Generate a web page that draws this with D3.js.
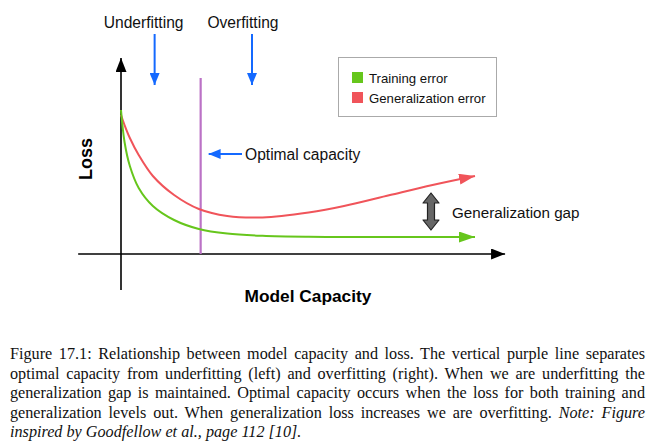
<!DOCTYPE html>
<html><head><meta charset="utf-8">
<script src="https://cdn.jsdelivr.net/npm/d3@7"></script>
<style>
body{margin:0;background:#fff;}
#wrap{position:relative;width:654px;height:448px;overflow:hidden;background:#fff;}
svg{position:absolute;left:0;top:0;}
#caption{position:absolute;left:10px;top:345px;width:635px;font-family:"Liberation Serif","Times New Roman",serif;font-size:16.2px;line-height:19.5px;color:#111;}
#caption div{white-space:nowrap;}
#caption span{display:inline-block;}
</style></head>
<body><div id="wrap"></div>
<script>
// ---- data ----
const capacity = [0, 0.1, 0.25, 0.5, 0.9, 1.5, 2.2, 3, 4, 5.3, 6.3, 7.6, 8.8, 10];
const trainingLoss = [7.2, 5.6, 4.4, 3.3, 2.4, 1.7, 1.25, 1.02, 0.91, 0.86, 0.85, 0.85, 0.85, 0.85];
const generalizationLoss = [6.95, 6.45, 5.8, 4.95, 3.9, 2.95, 2.25, 1.9, 1.83, 2.08, 2.4, 2.95, 3.45, 3.9];
const optimalCapacity = 2.25;
const seriesNames = ["Training error", "Generalization error"];
const regionLabels = ["Underfitting", "Overfitting"];
const regionCapacity = [0.95, 3.7];
const captionLines = [
  "Figure 17.1: Relationship between model capacity and loss. The vertical purple line separates",
  "optimal capacity from underfitting (left) and overfitting (right). When we are underfitting the",
  "generalization gap is maintained. Optimal capacity occurs when the loss for both training and",
  "generalization levels out. When generalization loss increases we are overfitting. <i>Note: Figure</i>",
  "<i>inspired by Goodfellow et al., page 112 [10].</i>"
];

const W = 654, H = 448;
const green = "#66c61c", red = "#f0545a", purple = "#bb72c6", blue = "#1469ff";
const x = d3.scaleLinear().domain([0, 10]).range([121, 475]);
const y = d3.scaleLinear().domain([0, 10]).range([254, 54]);

const wrap = d3.select("#wrap");
const svg = wrap.append("svg").attr("width", W).attr("height", H);
const defs = svg.append("defs");
function marker(id, color, len, wid) {
  defs.append("marker").attr("id", id).attr("viewBox", `0 0 ${len} ${wid}`)
    .attr("refX", len).attr("refY", wid / 2).attr("markerWidth", len).attr("markerHeight", wid)
    .attr("markerUnits", "userSpaceOnUse").attr("orient", "auto")
    .append("path").attr("d", `M0,0L${len},${wid / 2}L0,${wid}Z`).attr("fill", color);
}
marker("mBlack", "#000", 14, 11);
marker("mGreen", green, 16, 11);
marker("mRed", red, 16, 11);
marker("mBlue", blue, 12, 10);

const font = "'Liberation Sans', Arial, Helvetica, sans-serif";

// axes
svg.append("line").attr("x1", x(-1.21)).attr("x2", x(10.85)).attr("y1", y(0)).attr("y2", y(0))
  .attr("stroke", "#000").attr("stroke-width", 1.6).attr("marker-end", "url(#mBlack)");
svg.append("line").attr("x1", x(0)).attr("x2", x(0)).attr("y1", y(-1.8)).attr("y2", y(9.8))
  .attr("stroke", "#000").attr("stroke-width", 1.6).attr("marker-end", "url(#mBlack)");

// optimal capacity line
svg.append("line").attr("x1", x(optimalCapacity)).attr("x2", x(optimalCapacity))
  .attr("y1", y(8.8)).attr("y2", y(0)).attr("stroke", purple).attr("stroke-width", 2.2);

// curves
const line = d3.line().x((d, i) => x(capacity[i])).y(d => y(d)).curve(d3.curveCatmullRom.alpha(0.5));
svg.append("path").attr("d", line(generalizationLoss)).attr("fill", "none")
  .attr("stroke", red).attr("stroke-width", 2).attr("marker-end", "url(#mRed)");
svg.append("path").attr("d", line(trainingLoss)).attr("fill", "none")
  .attr("stroke", green).attr("stroke-width", 2).attr("marker-end", "url(#mGreen)");

// axis titles
svg.append("text").attr("x", 308).attr("y", 302).attr("text-anchor", "middle")
  .attr("font-family", font).attr("font-weight", "bold").attr("font-size", 17.3).text("Model Capacity");
svg.append("text").attr("transform", "translate(92,159) rotate(-90)").attr("text-anchor", "middle")
  .attr("font-family", font).attr("font-weight", "bold").attr("font-size", 18).text("Loss");

// region labels & arrows
regionLabels.forEach((t, i) => {
  const cx = x(regionCapacity[i]);
  svg.append("text").attr("x", cx - 11 + (i ? 2 : 0)).attr("y", 28).attr("text-anchor", "middle")
    .attr("font-family", font).attr("font-size", 15.6).attr("fill", "#111").text(t);
  svg.append("line").attr("x1", cx).attr("x2", cx).attr("y1", 34).attr("y2", 85)
    .attr("stroke", blue).attr("stroke-width", 2).attr("marker-end", "url(#mBlue)");
});

// optimal capacity annotation
svg.append("line").attr("x1", 242).attr("x2", x(optimalCapacity) + 8).attr("y1", 154).attr("y2", 154)
  .attr("stroke", blue).attr("stroke-width", 2).attr("marker-end", "url(#mBlue)");
svg.append("text").attr("x", 245).attr("y", 159.5).attr("font-family", font).attr("font-size", 15.6)
  .attr("fill", "#111").text("Optimal capacity");

// generalization gap double arrow
const gx = 431, gy1 = 193, gy2 = 230, sw = 3.5, hw = 8, hl = 10;
svg.append("path").attr("d",
  `M${gx},${gy1} L${gx + hw},${gy1 + hl} L${gx + sw},${gy1 + hl} L${gx + sw},${gy2 - hl} L${gx + hw},${gy2 - hl}
   L${gx},${gy2} L${gx - hw},${gy2 - hl} L${gx - sw},${gy2 - hl} L${gx - sw},${gy1 + hl} L${gx - hw},${gy1 + hl} Z`)
  .attr("fill", "#666").attr("stroke", "#222").attr("stroke-width", 1.2).attr("stroke-linejoin", "round");
svg.append("text").attr("x", 452).attr("y", 217.5).attr("font-family", font).attr("font-size", 15.2)
  .attr("fill", "#111").text("Generalization gap");

// legend
const lg = svg.append("g");
lg.append("rect").attr("x", 338.5).attr("y", 57.5).attr("width", 158).attr("height", 59)
  .attr("fill", "#fff").attr("stroke", "#aaa").attr("stroke-width", 1);
[green, red].forEach((c, i) => {
  lg.append("rect").attr("x", 352).attr("y", 72 + i * 20).attr("width", 11).attr("height", 11).attr("fill", c);
  lg.append("text").attr("x", 369).attr("y", 82.5 + i * 20).attr("font-family", font)
    .attr("font-size", 13.2).attr("fill", "#111").text(seriesNames[i]);
});

// caption (justified lines via computed word spacing)
const cap = wrap.append("div").attr("id", "caption");
const capW = 635;
captionLines.forEach((t, i) => {
  const sp = cap.append("div").append("span").html(t);
  if (i < captionLines.length - 1) {
    const node = sp.node();
    const w = node.getBoundingClientRect().width;
    const n = (node.textContent.match(/ /g) || []).length;
    sp.style("word-spacing", ((capW - w) / n) + "px");
  }
});
</script></body></html>
